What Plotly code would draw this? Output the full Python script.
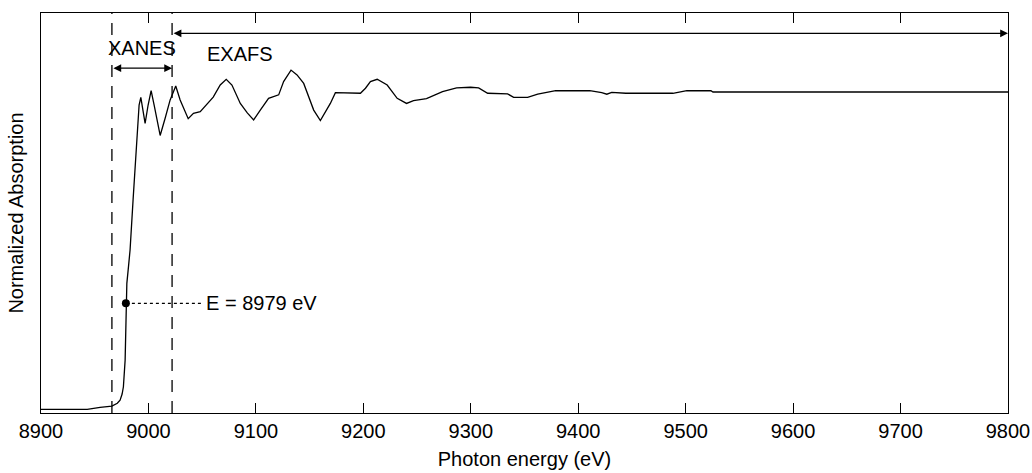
import plotly.graph_objects as go

# ---- data ----
energy_ev = [8900, 8943, 8955, 8962, 8966, 8971, 8973.6, 8975.5, 8976.7, 8978.3,
             8979.2, 8979.9, 8981.4, 8982.9, 8985.7, 8989.2, 8990.1, 8991.3, 8992.9, 8995.1,
             8996.9, 8999.7, 9002.5, 9005.3, 9010.9, 9015.6, 9020.2, 9025.4, 9029.5, 9037,
             9041.9, 9048.2, 9054.7, 9060.3, 9066.8, 9072.4, 9077.7, 9085.5, 9092, 9097.9,
             9104.1, 9111.8, 9121.2, 9125.8, 9132.7, 9138.3, 9144.5, 9153.8, 9160, 9169.3,
             9174, 9197.3, 9202, 9206.6, 9212.9, 9222.2, 9231.5, 9240.2, 9246.7, 9258.8,
             9273.7, 9286.8, 9299.8, 9307.3, 9315.7, 9334.3, 9339.9, 9352.9, 9362.3, 9371.6,
             9379, 9410.7, 9421.9, 9426.6, 9431.2, 9444.3, 9488.1, 9501.1, 9523.5, 9525.4,
             9800]
absorption = [0.000, 0.000, 0.006, 0.008, 0.010, 0.019, 0.029, 0.048, 0.071, 0.155,
              0.334, 0.397, 0.449, 0.502, 0.660, 0.833, 0.912, 0.959, 0.983, 0.943,
              0.901, 0.959, 1.004, 0.959, 0.863, 0.918, 0.975, 1.019, 0.975, 0.916,
              0.933, 0.938, 0.964, 0.984, 1.022, 1.040, 1.022, 0.964, 0.934, 0.912,
              0.943, 0.980, 0.991, 1.033, 1.069, 1.054, 1.027, 0.943, 0.910, 0.964,
              0.998, 0.996, 1.012, 1.033, 1.040, 1.022, 0.980, 0.964, 0.973, 0.979,
              1.001, 1.013, 1.015, 1.013, 0.996, 0.994, 0.983, 0.983, 0.993, 0.999,
              1.004, 1.004, 0.998, 0.993, 0.999, 0.996, 0.996, 1.004, 1.004, 1.000,
              1.000]

edge_energy = 8979
edge_absorption = 0.334
edge_label_end = 9050
region_bounds = [8966, 9022]      # XANES start, EXAFS start
exafs_end = 9800
xanes_arrow_y = 1.075
exafs_arrow_y = 1.185
xanes_label_y = 1.138
exafs_label_y = 1.119
exafs_label_x = 9085
x_ticks = [8900, 9000, 9100, 9200, 9300, 9400, 9500, 9600, 9700, 9800]
x_tick_labels = ["8900", "9000", "9100", "9200", "9300", "9400", "9500", "9600", "9700", "9800"]
x_range = [8900, 9800]
y_range = [-0.0117, 1.249]

FONT = "Liberation Sans, Arial, sans-serif"
fs = 20

fig = go.Figure()
fig.add_trace(go.Scatter(x=energy_ev, y=absorption, mode="lines",
                         line=dict(color="black", width=1.3), showlegend=False,
                         hoverinfo="skip"))
# dotted leader from the edge point to the label
fig.add_trace(go.Scatter(x=[edge_energy, edge_label_end], y=[edge_absorption, edge_absorption],
                         mode="lines", line=dict(color="black", width=1.2, dash="dot"),
                         showlegend=False, hoverinfo="skip"))
fig.add_trace(go.Scatter(x=[edge_energy], y=[edge_absorption], mode="markers",
                         marker=dict(color="black", size=8), showlegend=False,
                         hoverinfo="skip"))

# dashed vertical boundaries
for xb in region_bounds:
    fig.add_shape(type="line", x0=xb, x1=xb, y0=0, y1=1, xref="x", yref="paper",
                  line=dict(color="black", width=1.3, dash="12px,9px"))

annotations = [
    dict(x=region_bounds[1], y=xanes_arrow_y, ax=region_bounds[0], ay=xanes_arrow_y,
         xref="x", yref="y", axref="x", ayref="y", text="", showarrow=True,
         arrowhead=2, startarrowhead=2, arrowside="end+start", arrowsize=1.2,
         arrowwidth=1.3, arrowcolor="black", startstandoff=0, standoff=0),
    dict(x=exafs_end, y=exafs_arrow_y, ax=region_bounds[1], ay=exafs_arrow_y,
         xref="x", yref="y", axref="x", ayref="y", text="", showarrow=True,
         arrowhead=2, startarrowhead=2, arrowside="end+start", arrowsize=1.2,
         arrowwidth=1.3, arrowcolor="black", startstandoff=0, standoff=0),
    dict(x=(region_bounds[0] + region_bounds[1]) / 2, y=xanes_label_y, text="XANES",
         showarrow=False, xref="x", yref="y", font=dict(family=FONT, size=fs, color="black")),
    dict(x=exafs_label_x, y=exafs_label_y, text="EXAFS", showarrow=False,
         xref="x", yref="y", font=dict(family=FONT, size=fs, color="black")),
    dict(x=edge_label_end, y=edge_absorption, text=f"E = {edge_energy} eV", showarrow=False,
         xref="x", yref="y", xanchor="left", xshift=2,
         font=dict(family=FONT, size=fs, color="black")),
]

fig.update_layout(
    width=1032, height=473,
    margin=dict(l=41, r=24, t=13, b=60),
    paper_bgcolor="white", plot_bgcolor="white",
    font=dict(family=FONT, size=fs, color="black"),
    annotations=annotations,
    xaxis=dict(range=x_range, tickvals=x_ticks, ticktext=x_tick_labels,
               ticks="inside", ticklen=10,
               tickcolor="black", tickwidth=1, showline=True, linecolor="black",
               linewidth=1, mirror="ticks", showgrid=False, zeroline=False,
               tickfont=dict(family=FONT, size=fs, color="black"),
               title=dict(text="Photon energy (eV)", standoff=10,
                          font=dict(family=FONT, size=fs, color="black")),
               automargin=False),
    yaxis=dict(range=y_range, showticklabels=False, ticks="", showline=True,
               linecolor="black", linewidth=1, mirror=True, showgrid=False,
               zeroline=False,
               title=dict(text="Normalized Absorption", standoff=11,
                          font=dict(family=FONT, size=fs, color="black")),
               automargin=False),
)

fig.write_html("out.html", config={"displayModeBar": False},
               post_script="document.body.style.margin='0px';")
